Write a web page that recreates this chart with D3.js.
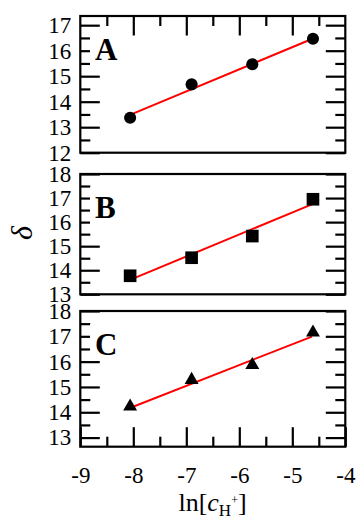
<!DOCTYPE html>
<html>
<head>
<meta charset="utf-8">
<script src="https://cdn.jsdelivr.net/npm/d3@7"></script>
<style>
  html, body { margin: 0; padding: 0; background: #fff; }
  svg { display: block; }
  text { font-family: "Liberation Serif", "Times New Roman", serif; fill: #000; }
</style>
</head>
<body>
<svg id="chart" width="357" height="520"></svg>
<script>
// ---- data ----
const lnC = [-8.06, -6.9, -5.755, -4.61];          // ln[c_H+]
const deltaA = [13.37, 14.68, 15.47, 16.47];
const deltaB = [13.77, 14.52, 15.42, 16.95];
const deltaC = [14.23, 15.28, 15.87, 17.15];
const fitX = [-8.04, -4.63];                        // red fitted-line ends
const fitA = [13.50, 16.46];
const fitB = [13.62, 16.74];
const fitC = [14.19, 16.99];
const panelNames = ["A", "B", "C"];
const xTicks = [-9, -8, -7, -6, -5, -4];
const xMinor = [-8.5, -7.5, -6.5, -5.5, -4.5];
const yTicksA = [12, 13, 14, 15, 16, 17];
const yMinorA = [12.5, 13.5, 14.5, 15.5, 16.5];
const yTicksBC = [13, 14, 15, 16, 17, 18];
const yMinorBC = [13.5, 14.5, 15.5, 16.5, 17.5];

const svg = d3.select("#chart");
const left = 80.3, right = 345.3;
const x = d3.scaleLinear().domain([-9, -4]).range([left, right]);

const panels = [
  {name: panelNames[0], vals: deltaA, fit: fitA, dom: [12, 17.36], top: 16, bottom: 152.7,
   ticks: yTicksA, minor: yMinorA, marker: d3.symbolCircle, msize: 115, topTicks: true, bottomTicks: false},
  {name: panelNames[1], vals: deltaB, fit: fitB, dom: [13, 18], top: 174, bottom: 294.3,
   ticks: yTicksBC, minor: yMinorBC, marker: d3.symbolSquare, msize: 160, topTicks: false, bottomTicks: false},
  {name: panelNames[2], vals: deltaC, fit: fitC, dom: [12.64, 18], top: 311, bottom: 446.7,
   ticks: yTicksBC, minor: yMinorBC, marker: d3.symbolTriangle, msize: 84, topTicks: false, bottomTicks: true}
];

const SW = 2.2;
function styleAxis(g) {
  g.attr("font-family", null).attr("font-size", null);
  g.select(".domain").remove();
  g.selectAll(".tick line").attr("stroke", "#000").attr("stroke-width", SW);
  g.selectAll(".tick text").attr("font-size", 23).attr("fill", "#000")
    .style("font-family", "'Liberation Serif', serif");
}

panels.forEach(p => {
  const y = d3.scaleLinear().domain(p.dom).range([p.bottom, p.top]);
  const g = svg.append("g");
  const h = p.bottom - p.top;

  // left ticks + labels
  g.append("g").attr("transform", `translate(${left},0)`)
    .call(d3.axisLeft(y).tickValues(p.ticks).tickSize(-19.5).tickPadding(9).tickFormat(d3.format("d")))
    .call(styleAxis);
  g.append("g").attr("transform", `translate(${left},0)`)
    .call(d3.axisLeft(y).tickValues(p.minor).tickSize(-10).tickFormat(""))
    .call(styleAxis);
  // right ticks
  g.append("g").attr("transform", `translate(${right},0)`)
    .call(d3.axisRight(y).tickValues(p.ticks).tickSize(-19.5).tickFormat(""))
    .call(styleAxis);
  g.append("g").attr("transform", `translate(${right},0)`)
    .call(d3.axisRight(y).tickValues(p.minor).tickSize(-10).tickFormat(""))
    .call(styleAxis);

  if (p.topTicks) {
    g.append("g").attr("transform", `translate(0,${p.top})`)
      .call(d3.axisTop(x).tickValues(xTicks.slice(1, -1)).tickSize(-19.5).tickFormat(""))
      .call(styleAxis);
    g.append("g").attr("transform", `translate(0,${p.top})`)
      .call(d3.axisTop(x).tickValues(xMinor).tickSize(-10).tickFormat(""))
      .call(styleAxis);
  }
  if (p.bottomTicks) {
    const ax = g.append("g").attr("transform", `translate(0,${p.bottom})`)
      .call(d3.axisBottom(x).tickValues(xTicks).tickSize(-19.5).tickPadding(20).tickFormat(d3.format("d")))
      .call(styleAxis);
    ax.selectAll(".tick text").text(d => (d < 0 ? "-" : "") + Math.abs(d));
    g.append("g").attr("transform", `translate(0,${p.bottom})`)
      .call(d3.axisBottom(x).tickValues(xMinor).tickSize(-10).tickFormat(""))
      .call(styleAxis);
  }

  // panel letter with white box
  const ly = p.top + 44;
  g.append("rect").attr("x", 90).attr("y", p.top + 13).attr("width", 31).attr("height", 37).attr("fill", "#fff");
  g.append("text").attr("x", 95).attr("y", ly).attr("font-size", 31).attr("font-weight", "bold").text(p.name);

  // frame
  g.append("rect").attr("x", left).attr("y", p.top).attr("width", right - left).attr("height", h)
    .attr("fill", "none").attr("stroke", "#000").attr("stroke-width", SW);

  // fitted line
  const line = d3.line().x(d => x(d[0])).y(d => y(d[1]));
  g.append("path").datum(fitX.map((xv, i) => [xv, p.fit[i]]))
    .attr("d", line).attr("stroke", "#ff0000").attr("stroke-width", 2).attr("fill", "none");

  // markers
  g.selectAll(".pt").data(lnC.map((xv, i) => [xv, p.vals[i]])).join("path")
    .attr("transform", d => `translate(${x(d[0])},${y(d[1])})`)
    .attr("d", d3.symbol().type(p.marker).size(p.msize))
    .attr("fill", "#000");
});

// y-axis label
svg.append("text").attr("transform", "translate(32,233) rotate(-90)")
  .attr("text-anchor", "middle").attr("font-size", 30).attr("font-style", "italic").text("δ");

// x-axis label ln[c_H+]
const xl = svg.append("text").attr("x", 212.5).attr("y", 510.5)
  .attr("text-anchor", "middle").attr("font-size", 26);
xl.append("tspan").text("ln[");
xl.append("tspan").attr("font-style", "italic").text("c");
xl.append("tspan").attr("font-size", 17).attr("dy", 5.5).text("H");
xl.append("tspan").attr("font-size", 12).attr("dy", -12).text("+");
xl.append("tspan").attr("dy", 6.5).text("]");
</script>
</body>
</html>
